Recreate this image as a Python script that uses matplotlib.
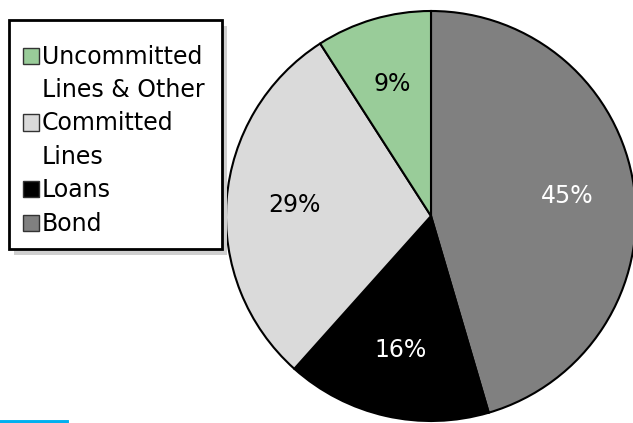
import matplotlib.pyplot as plt
from matplotlib.patches import Rectangle
from matplotlib.lines import Line2D

# data (clockwise from 12 o'clock)
categories = ['Bond', 'Loans', 'Committed\nLines', 'Uncommitted\nLines & Other']
shares = [45, 16, 29, 9]
colors = ['#808080', '#000000', '#DADADA', '#99CC99']
pct_colors = ['white', 'white', 'black', 'black']

W, H = 633, 423
fig = plt.figure(figsize=(W / 100, H / 100), dpi=100)

def fx(px):
    return px / W

def fy(py):
    return 1 - py / H

# pie axes: centre (431, 216), radius 205 px
cx, cy, r = 431, 216, 205
ax = fig.add_axes([fx(cx - r), fy(cy + r), 2 * r / W, 2 * r / H])
wedges, texts, autotexts = ax.pie(
    shares, colors=colors, startangle=90, counterclock=False,
    autopct='%.0f%%', pctdistance=0.67,
    wedgeprops=dict(edgecolor='black', linewidth=1.5),
    textprops=dict(fontsize=17, family='DejaVu Sans'))
for t, c in zip(autotexts, pct_colors):
    t.set_color(c)
ax.set_xlim(-1, 1)
ax.set_ylim(-1, 1)
ax.set_aspect('auto')
ax.axis('off')

# legend box with shadow
bx0, by0, bx1, by1 = 9, 20, 222, 249
fig.add_artist(Rectangle((fx(bx0 + 5), fy(by1 + 6)), fx(bx1 - bx0), (by1 - by0) / H,
                         transform=fig.transFigure, facecolor='#CFCFCF',
                         edgecolor='none', zorder=1))
fig.add_artist(Rectangle((fx(bx0), fy(by1)), fx(bx1 - bx0), (by1 - by0) / H,
                         transform=fig.transFigure, facecolor='white',
                         edgecolor='black', linewidth=2, zorder=2))

# legend entries, listed top to bottom
line_h = 33.4
y = 56.7
for name, col in zip(categories[::-1], colors[::-1]):
    sq = 16
    fig.add_artist(Rectangle((fx(23), fy(y - 1 + sq / 2)), fx(sq), sq / H,
                             transform=fig.transFigure, facecolor=col,
                             edgecolor='#333333', linewidth=1, zorder=3))
    for line in name.split('\n'):
        fig.text(fx(42), fy(y), line, fontsize=17, va='center', ha='left',
                 color='black', zorder=4)
        y += line_h

# small cyan rule at the bottom left
fig.add_artist(Line2D([0, fx(67)], [fy(421.5), fy(421.5)], color='#00B0F0',
                      linewidth=2.8, transform=fig.transFigure))

fig.savefig('out.png', dpi=100)
plt.close(fig)
